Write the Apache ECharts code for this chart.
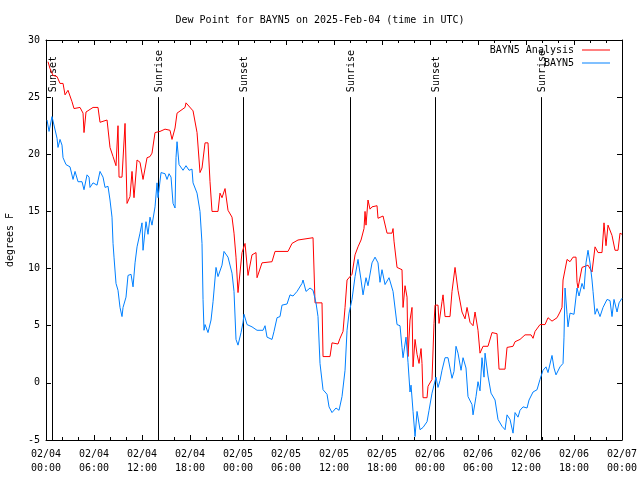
<!DOCTYPE html>
<html>
<head>
<meta charset="utf-8">
<script src="https://cdn.jsdelivr.net/npm/echarts@6/dist/echarts.min.js"></script>
<style>html,body{margin:0;padding:0;background:#fff}#c{width:640px;height:480px}</style>
</head>
<body>
<div id="c"></div>
<script>
// ---- data (hours since 2025-02-04 00:00 UTC) ----
const titleText = 'Dew Point for BAYN5 on 2025-Feb-04 (time in UTC)';
const yAxisName = 'degrees F';
const seriesNames = ['BAYN5 Analysis', 'BAYN5'];

const redHours = [0.25,0.5,0.88,1.38,1.75,2.13,2.38,2.75,3.0,3.25,3.5,4.25,4.63,4.75,5.0,5.88,6.5,6.75,7.63,8.0,8.38,8.75,9.0,9.13,9.5,9.88,10.13,10.5,10.75,11.0,11.38,11.75,12.13,12.63,13.0,13.25,13.63,14.25,14.88,15.5,15.75,16.13,16.38,17.38,17.5,18.38,18.88,19.25,19.5,19.88,20.25,20.5,20.75,21.5,21.75,22.0,22.38,22.75,23.25,23.5,23.75,24.0,24.25,24.5,24.88,25.25,25.75,26.25,26.38,27.0,28.25,28.63,30.25,30.75,31.5,33.38,33.63,34.5,34.63,35.5,35.75,36.5,36.75,37.13,37.38,37.63,38.25,38.63,39.0,39.38,39.75,39.88,40.0,40.25,40.5,40.75,41.38,41.5,42.13,42.63,43.25,43.38,43.5,43.88,44.5,44.63,44.88,45.13,45.25,45.5,45.75,45.88,46.13,46.38,46.63,46.88,47.0,47.13,47.63,47.75,48.25,48.5,48.63,49.0,49.13,49.5,49.63,49.88,50.5,50.75,51.13,51.5,52.0,52.38,52.63,53.0,53.38,53.63,54.0,54.25,54.63,55.25,55.75,56.38,56.63,57.38,57.63,58.38,58.63,59.25,59.88,60.63,60.88,61.13,61.75,62.38,62.75,63.25,63.88,64.25,64.5,64.63,65.13,65.5,65.88,66.25,66.38,66.5,67.0,67.75,68.25,68.63,69.0,69.5,69.75,70.0,70.25,70.75,71.13,71.5,71.75,72.0];
const redValues = [28.1,27.5,26.9,26.8,26.2,26.2,25.2,25.6,25.5,24.6,24.0,24.1,23.6,21.9,23.7,24.1,24.1,22.8,23.0,20.6,19.8,19.0,22.5,18.0,18.0,22.7,15.7,16.3,18.5,16.2,19.5,19.3,17.8,19.7,19.8,20.1,21.9,22.0,22.2,22.1,21.3,22.3,23.6,24.1,24.5,23.8,21.9,18.4,18.8,21.0,21.0,17.6,15.0,15.0,16.6,16.2,17.0,15.1,14.5,13.1,11.0,7.9,8.0,11.4,12.2,9.4,11.2,11.4,9.2,10.5,10.6,11.5,11.5,12.2,12.5,12.7,7.0,7.0,2.3,2.3,3.5,3.4,3.9,4.5,6.6,9.0,9.5,11.2,11.9,12.5,13.5,15.0,13.8,16.0,15.2,15.4,15.5,14.4,14.6,13.1,13.1,13.5,12.4,10.1,9.9,6.6,8.5,7.5,2.3,5.5,6.6,1.4,3.8,2.5,1.7,3.0,1.7,-1.3,-1.3,-0.3,0.3,5.2,6.8,6.8,5.2,7.1,7.7,5.8,5.8,8.0,10.1,8.1,6.2,5.6,6.6,5.3,5.0,6.2,4.6,2.6,3.2,3.2,4.4,4.3,1.2,1.2,3.1,3.2,3.6,3.8,4.2,4.2,3.9,4.5,5.1,5.1,5.7,5.4,5.7,6.2,6.6,9.0,10.8,10.6,11.0,11.0,8.8,8.3,10.1,10.3,9.7,11.9,11.4,11.4,14.0,12.0,13.8,12.9,11.6,11.6,13.1,13.0];

const blueHours = [0.13,0.38,0.75,1.0,1.38,1.5,1.75,2.0,2.13,2.5,3.0,3.38,3.63,4.0,4.5,4.75,5.13,5.38,5.5,5.88,6.38,6.75,7.13,7.38,7.75,8.0,8.25,8.38,8.5,8.75,9.0,9.25,9.5,9.63,10.0,10.25,10.63,10.88,11.13,11.38,11.75,12.0,12.13,12.5,12.75,13.0,13.25,13.63,13.88,14.0,14.38,14.88,15.13,15.38,15.63,15.88,16.13,16.25,16.38,16.63,17.13,17.5,17.88,18.25,18.38,18.88,19.25,19.5,19.63,19.75,19.88,20.25,20.63,20.88,21.25,21.5,22.0,22.25,22.75,23.25,23.5,23.75,24.0,24.38,24.63,24.75,25.13,25.75,26.38,27.13,27.38,27.63,28.25,28.5,28.88,29.25,29.5,30.13,30.5,30.88,31.38,32.0,32.13,32.5,33.0,33.38,33.75,34.0,34.25,34.63,35.13,35.38,35.75,36.0,36.25,36.63,37.0,37.38,37.63,37.88,38.25,38.63,39.0,39.38,39.63,40.0,40.25,40.75,41.13,41.5,41.75,42.0,42.38,42.88,43.38,43.88,44.25,44.5,44.63,45.0,45.25,45.5,45.63,45.88,46.13,46.38,46.75,47.13,47.63,47.88,48.25,48.5,48.75,49.0,49.25,49.5,49.88,50.25,50.75,51.0,51.25,51.5,51.88,52.13,52.5,52.75,53.25,53.38,53.75,54.0,54.25,54.5,54.75,54.88,55.25,55.63,56.13,56.5,57.0,57.38,57.63,58.0,58.38,58.63,59.0,59.25,59.63,60.13,60.38,60.88,61.38,61.75,62.13,62.5,62.75,63.25,63.5,63.75,64.25,64.63,64.75,64.88,65.13,65.25,65.5,66.0,66.25,66.38,66.63,67.0,67.25,67.5,67.75,68.0,68.25,68.38,68.63,68.88,69.25,69.63,70.13,70.5,70.75,71.0,71.38,71.63,72.0];
const blueValues = [23.0,22.0,23.3,23.2,21.4,20.6,21.3,20.8,19.7,19.1,18.9,17.8,18.5,17.6,17.6,16.9,18.2,18.0,17.1,17.5,17.3,18.5,18.0,17.1,17.2,16.0,14.5,12.2,11.0,8.7,8.1,6.6,5.8,6.6,7.5,9.4,9.5,8.4,10.5,11.9,13.1,14.0,11.6,14.1,13.0,14.5,13.8,15.4,17.5,16.2,18.4,18.3,17.8,18.3,18.0,15.7,15.3,19.7,21.1,19.1,18.6,19.0,18.6,18.7,17.5,16.6,15.0,12.2,7.3,4.6,5.1,4.4,5.5,7.1,10.1,9.3,10.3,11.5,11.0,9.6,8.0,3.8,3.3,4.4,5.3,6.0,5.1,4.9,4.6,4.6,5.0,4.0,3.8,4.5,5.7,5.8,6.8,6.9,7.7,7.6,8.0,8.7,9.0,8.0,8.3,8.1,7.0,5.8,1.7,-0.6,-1.0,-2.1,-2.6,-2.6,-2.2,-2.4,-1.2,1.1,4.6,6.1,7.3,9.3,10.8,9.0,7.7,9.2,8.5,10.5,11.0,10.5,8.8,9.9,8.6,9.2,8.0,5.1,5.0,3.1,2.2,4.0,1.8,-0.8,-0.2,-2.5,-4.7,-2.5,-4.1,-3.9,-3.4,-2.4,-0.9,-0.2,0.5,-0.4,0.2,1.1,2.2,2.2,0.4,1.0,3.2,2.6,1.1,2.2,1.3,-1.2,-1.9,-2.8,-1.2,0.1,-0.7,2.2,0.5,2.6,0.6,-0.9,-1.5,-3.2,-3.8,-4.1,-2.8,-3.2,-4.4,-2.6,-3.0,-2.4,-2.1,-2.2,-1.5,-0.8,-0.6,0.3,1.1,1.4,0.9,2.4,1.3,0.7,1.4,1.7,4.0,8.3,6.0,4.9,6.1,6.0,6.0,8.3,7.6,8.7,8.2,10.5,11.6,10.5,9.0,8.0,6.0,6.5,5.8,6.6,7.3,7.2,5.8,7.3,6.2,7.0,7.4];

const sunHours = [0.7, 14.04, 24.66, 38.0, 48.63, 61.88];
const sunLabels = ['Sunset','Sunrise','Sunset','Sunrise','Sunset','Sunrise'];
const sunLineTop = 25;

const xMin = 0, xMax = 72, xInterval = 6;
const yMin = -5, yMax = 30, yInterval = 5;
const startDay = 4;

// ---- chart ----
const FONT = '"DejaVu Sans Mono", monospace';
const pair = (hs, vs) => hs.map((h, i) => [h, vs[i]]);
function xLabel(v) {
  const d = startDay + Math.floor(v / 24 + 1e-9);
  const hh = Math.round(v - (d - startDay) * 24);
  return '02/' + String(d).padStart(2, '0') + '\n' + String(hh).padStart(2, '0') + ':00';
}
const axisLineStyle = { color: '#000', width: 1 };
const legendCommon = { right: 30, orient: 'vertical', align: 'right', icon: 'rect',
  itemWidth: 28, itemHeight: 1, padding: 0,
  textStyle: { fontFamily: FONT, fontSize: 10, color: '#000', padding: [0, 3, 0, 0] } };
const chart = echarts.init(document.getElementById('c'), null, { renderer: 'canvas' });
chart.setOption({
  animation: false,
  backgroundColor: '#fff',
  textStyle: { fontFamily: FONT },
  title: {
    text: titleText, left: 'center', top: 10,
    textStyle: { fontFamily: FONT, fontSize: 10, fontWeight: 'normal', color: '#000' }
  },
  grid: { left: 46, right: 18, top: 40, bottom: 40, containLabel: false, outerBoundsMode: 'none' },
  legend: [
    Object.assign({ data: [seriesNames[0]], top: 45 }, legendCommon),
    Object.assign({ data: [seriesNames[1]], top: 58 }, legendCommon)
  ],
  xAxis: [
    { type: 'value', min: xMin, max: xMax, interval: xInterval, position: 'bottom',
      axisLine: { show: true, onZero: false, lineStyle: axisLineStyle },
      axisTick: { show: true, inside: true, length: 5, lineStyle: axisLineStyle },
      minorTick: { show: true, splitNumber: 3, length: 3, lineStyle: axisLineStyle },
      splitLine: { show: false },
      axisLabel: { formatter: xLabel, fontFamily: FONT, fontSize: 10, color: '#000', lineHeight: 14, margin: 7 } },
    { type: 'value', min: xMin, max: xMax, interval: xInterval, position: 'top',
      axisLine: { show: true, onZero: false, lineStyle: axisLineStyle },
      axisTick: { show: true, inside: true, length: 5, lineStyle: axisLineStyle },
      minorTick: { show: true, splitNumber: 3, length: 3, lineStyle: axisLineStyle },
      splitLine: { show: false }, axisLabel: { show: false } }
  ],
  yAxis: [
    { type: 'value', min: yMin, max: yMax, interval: yInterval, position: 'left',
      name: yAxisName, nameLocation: 'middle', nameGap: 31, nameRotate: 90,
      nameTextStyle: { fontFamily: FONT, fontSize: 10, color: '#000' },
      axisLine: { show: true, onZero: false, lineStyle: axisLineStyle },
      axisTick: { show: true, inside: true, length: 5, lineStyle: axisLineStyle },
      splitLine: { show: false },
      axisLabel: { fontFamily: FONT, fontSize: 10, color: '#000', margin: 6 } },
    { type: 'value', min: yMin, max: yMax, interval: yInterval, position: 'right',
      axisLine: { show: true, onZero: false, lineStyle: axisLineStyle },
      axisTick: { show: true, inside: true, length: 5, lineStyle: axisLineStyle },
      splitLine: { show: false }, axisLabel: { show: false } }
  ],
  series: [
    { name: 'sun', type: 'custom', xAxisIndex: 0, yAxisIndex: 0, silent: true, clip: false,
      data: sunHours.map(h => [h, sunLineTop]),
      renderItem: function (params, api) {
        const h = api.value(0);
        const top = api.coord([h, api.value(1)]);
        const bot = api.coord([h, yMin]);
        const x = Math.round(top[0]) + 0.5;
        return { type: 'group', children: [
          { type: 'line', shape: { x1: x, y1: top[1], x2: x, y2: bot[1] },
            style: { stroke: '#000', lineWidth: 1 } },
          { type: 'text', x: x + 1, y: top[1] - 5, rotation: Math.PI / 2,
            style: { text: sunLabels[params.dataIndex], font: '10px ' + FONT, fill: '#000',
                     align: 'left', verticalAlign: 'middle' } }
        ] };
      } },
    { name: seriesNames[0], type: 'line', data: pair(redHours, redValues), symbol: 'none',
      color: '#ff0000', lineStyle: { color: '#ff0000', width: 1 }, z: 3 },
    { name: seriesNames[1], type: 'line', data: pair(blueHours, blueValues), symbol: 'none',
      color: '#0080ff', lineStyle: { color: '#0080ff', width: 1 }, z: 4 }
  ]
});
</script>
</body>
</html>
